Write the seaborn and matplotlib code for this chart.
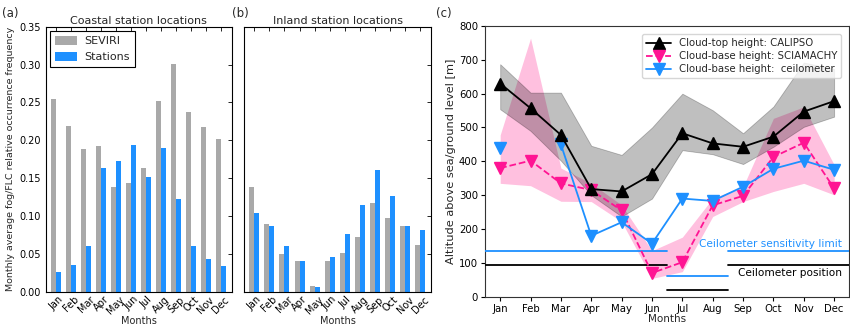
import numpy as np
import pandas as pd
import matplotlib
matplotlib.use("Agg")
import matplotlib.pyplot as plt
import seaborn as sns

# ---- data -------------------------------------------------------------
months = ["Jan", "Feb", "Mar", "Apr", "May", "Jun",
          "Jul", "Aug", "Sep", "Oct", "Nov", "Dec"]

coastal_seviri = [0.255, 0.219, 0.189, 0.192, 0.138, 0.144,
                  0.164, 0.252, 0.301, 0.237, 0.217, 0.202]
coastal_stations = [0.026, 0.035, 0.060, 0.164, 0.173, 0.194,
                    0.151, 0.190, 0.123, 0.060, 0.043, 0.034]

inland_seviri = [0.138, 0.089, 0.050, 0.040, 0.007, 0.040,
                 0.051, 0.072, 0.117, 0.098, 0.087, 0.062]
inland_stations = [0.104, 0.087, 0.061, 0.040, 0.006, 0.046,
                   0.076, 0.115, 0.161, 0.127, 0.087, 0.081]

calipso_top = [630, 557, 478, 318, 311, 362, 483, 453, 443, 473, 547, 578]
calipso_low = [554, 490, 402, 300, 237, 290, 433, 421, 392, 443, 502, 532]
calipso_high = [687, 603, 603, 446, 419, 500, 600, 551, 483, 562, 692, 673]

sciamachy_base = [380, 402, 335, 315, 255, 70, 102, 270, 298, 413, 455, 320]
sciamachy_low = [335, 328, 282, 281, 222, 54, 74, 237, 281, 311, 335, 301]
sciamachy_high = [478, 764, 380, 335, 271, 136, 176, 291, 325, 527, 561, 390]

ceilometer_base = [440, np.nan, 450, 180, 220, 157, 290, 283, 325, 378, 402, 375]

# ceilometer reference heights: all year, and for the Jul-Aug station
sensitivity_limit = 134
ceilometer_position = 94
sensitivity_limit_summer = 60
ceilometer_position_summer = 20
summer_months = ["Jul", "Aug"]

# ---- style ------------------------------------------------------------
sns.set_style("white")
plt.rcParams["font.family"] = ["DejaVu Sans"]
plt.rcParams["font.size"] = 7

GREY = "#a9a9a9"
BLUE = "#1e90ff"
PINK = "#ff1493"
PINK_FILL = "#ff69b4"

fig = plt.figure(figsize=(8.5, 3.26), dpi=100)

ax_a = fig.add_axes([0.0538, 0.1052, 0.2188, 0.8129])
ax_b = fig.add_axes([0.2871, 0.1052, 0.2200, 0.8129])
ax_c = fig.add_axes([0.5706, 0.0899, 0.4286, 0.8304])


def frequency_panel(ax, seviri, stations, title, show_y):
    df = pd.DataFrame({
        "Month": months * 2,
        "freq": list(seviri) + list(stations),
        "Source": ["SEVIRI"] * 12 + ["Stations"] * 12,
    })
    sns.barplot(data=df, x="Month", y="freq", hue="Source",
                palette={"SEVIRI": GREY, "Stations": BLUE},
                width=2 / 3, gap=0, saturation=1, linewidth=0,
                ax=ax, legend=show_y)
    ax.set_xlim(-0.68, 11.72)
    ax.set_ylim(0, 0.35)
    ax.set_yticks(np.arange(0, 0.351, 0.05))
    ax.tick_params(direction="in", top=True, right=True, length=3,
                   width=0.6, labelsize=7, colors="black")
    ax.tick_params(axis="x", pad=2)
    for lab in ax.get_xticklabels():
        lab.set_rotation(45)
        lab.set_ha("center")
    ax.set_xlabel("Months", fontsize=7, labelpad=0)
    ax.set_title(title, fontsize=8, pad=2)
    for sp in ax.spines.values():
        sp.set_color("black")
        sp.set_linewidth(0.8)
    if show_y:
        ax.set_yticklabels([f"{v:.2f}" for v in np.arange(0, 0.351, 0.05)])
        ax.set_ylabel("Monthly average fog/FLC relative occurrence frequency",
                      fontsize=6.8, labelpad=3)
        leg = ax.legend(loc="upper left", fontsize=8, fancybox=False,
                        edgecolor="black", framealpha=1, borderpad=0.45,
                        handlelength=2.0, handleheight=0.9,
                        handletextpad=0.7, borderaxespad=0.35)
        leg.get_frame().set_linewidth(0.8)
    else:
        ax.set_yticklabels([])
        ax.set_ylabel("")


frequency_panel(ax_a, coastal_seviri, coastal_stations,
                "Coastal station locations", True)
frequency_panel(ax_b, inland_seviri, inland_stations,
                "Inland station locations", False)

# ---- cloud heights panel ---------------------------------------------
x = np.arange(1, 13)
ax = ax_c
ax.fill_between(x, sciamachy_low, sciamachy_high, color=PINK_FILL,
                alpha=0.42, linewidth=0, zorder=1)
ax.fill_between(x, calipso_low, calipso_high, color="black", alpha=0.25,
                linewidth=0.6, zorder=2)

ax.plot(x, calipso_top, "-^", color="black", markersize=9, linewidth=1.3,
        label="Cloud-top height: CALIPSO", zorder=5)
ax.plot(x, sciamachy_base, "--v", color=PINK, markersize=9, linewidth=1.3,
        label="Cloud-base height: SCIAMACHY", zorder=4)
ax.plot(x, ceilometer_base, "-v", color=BLUE, markersize=9, linewidth=1.3,
        label="Cloud-base height:  ceilometer", zorder=4)

x_lo, x_hi = 0.5, 12.5
s0 = months.index(summer_months[0]) + 1 - 0.5
s1 = months.index(summer_months[-1]) + 1 + 0.5
for y, c in [(sensitivity_limit, BLUE), (ceilometer_position, "black")]:
    ax.plot([x_lo, s0], [y, y], color=c, linewidth=1.3, zorder=3)
    ax.plot([s1, x_hi], [y, y], color=c, linewidth=1.3, zorder=3)
ax.plot([s0, s1], [sensitivity_limit_summer] * 2, color=BLUE,
        linewidth=1.3, zorder=3)
ax.plot([s0, s1], [ceilometer_position_summer] * 2, color="black",
        linewidth=1.3, zorder=3)

ax.text(12.27, sensitivity_limit + 7, "Ceilometer sensitivity limit",
        color=BLUE, ha="right", va="bottom", fontsize=7.6)
ax.text(12.27, ceilometer_position - 10, "Ceilometer position",
        color="black", ha="right", va="top", fontsize=7.6)

ax.set_xlim(x_lo, x_hi)
ax.set_ylim(0, 800)
ax.set_xticks(x)
ax.set_xticklabels(months)
ax.set_yticks(np.arange(0, 801, 100))
ax.tick_params(direction="out", length=3, width=0.8, labelsize=7.3,
               bottom=True, left=True, colors="black", pad=2)
ax.set_xlabel("Months", fontsize=7.5, labelpad=0)
ax.set_ylabel("Altitude above sea/ground level [m]", fontsize=8.2,
              labelpad=2)
for sp in ax.spines.values():
    sp.set_color("#333333")
    sp.set_linewidth(0.8)
ax.legend(loc="upper right", fontsize=7.3, borderaxespad=0.8,
          handlelength=2.4, labelspacing=0.3)

fig.text(0.002, 0.948, "(a)", fontsize=8.5)
fig.text(0.273, 0.948, "(b)", fontsize=8.5)
fig.text(0.513, 0.948, "(c)", fontsize=8.5)

fig.savefig("out.png", dpi=100)
